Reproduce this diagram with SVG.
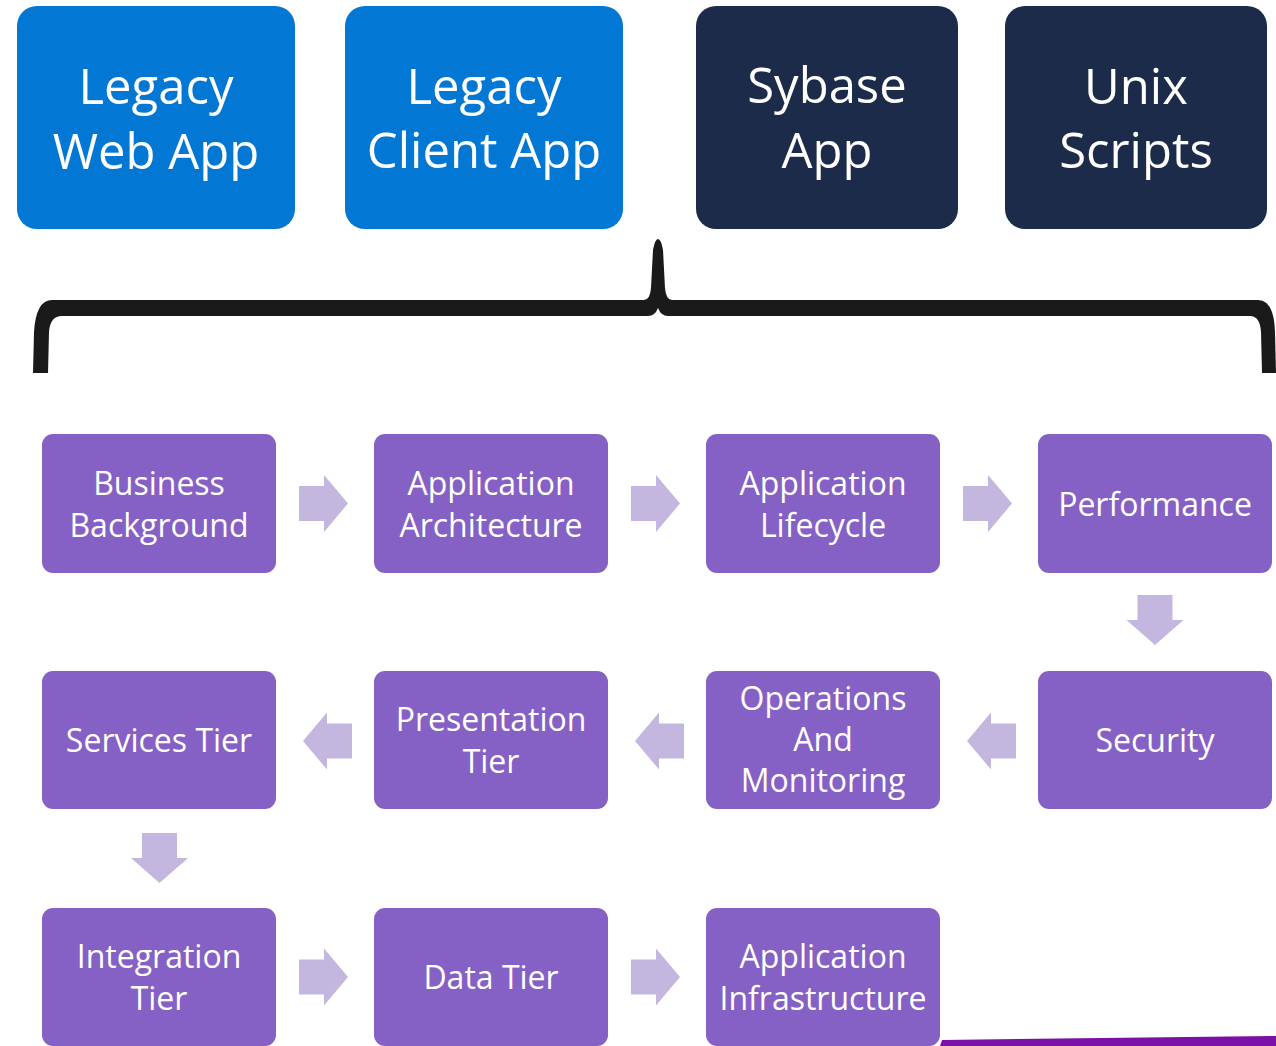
<svg xmlns="http://www.w3.org/2000/svg" width="1276" height="1046" viewBox="0 0 1276 1046">
<style>
.top{font-family:"Open Sans","Liberation Sans",sans-serif;font-size:49px;fill:#fff;text-anchor:middle}
.step{font-family:"Open Sans","Liberation Sans",sans-serif;font-size:32px;fill:#fff;text-anchor:middle}
.blue{fill:#0278D4}
.navy{fill:#1D2B4A}
.box{fill:#8661C5}
.arr{fill:#C3B7E0}
</style>
<defs>
<path id="ar" d="M0 -17.5 L25 -17.5 L25 -28.5 L49 0 L25 28.5 L25 17.5 L0 17.5 Z"/>
<path id="ad" d="M-17.5 0 L17.5 0 L17.5 25 L28.5 25 L0 50 L-28.5 25 L-17.5 25 Z"/>
</defs>
<rect width="1276" height="1046" fill="#fff"/>
<g id="legacy-web-app"><rect class="blue" x="17" y="6" width="278" height="223" rx="20"/><text class="top" x="156" y="104">Legacy</text><text class="top" x="156" y="169">Web App</text></g>
<g id="legacy-client-app"><rect class="blue" x="345" y="6" width="278" height="223" rx="20"/><text class="top" x="484" y="104">Legacy</text><text class="top" x="484" y="168">Client App</text></g>
<g id="sybase-app"><rect class="navy" x="696" y="6" width="262" height="223" rx="20"/><text class="top" x="827" y="103">Sybase</text><text class="top" x="827" y="168">App</text></g>
<g id="unix-scripts"><rect class="navy" x="1005" y="6" width="262" height="223" rx="20"/><text class="top" x="1136" y="104">Unix</text><text class="top" x="1136" y="168">Scripts</text></g>
<g id="brace"><path fill="#1A1A1A" d="M33 373 L34 332 Q36 300 52 300 L644 300 Q650 300 651 288 L653 250 Q655 239 658 239 Q661 239 663 250 L665 288 Q666 300 672 300 L1258 300 Q1274 300 1275 332 L1276 373 L1262 373 L1261 332 Q1260 316 1250 316 L668 316 Q661 316 658 308 Q655 316 648 316 L62 316 Q50 316 49 332 L48 373 Z"/></g>
<g id="bottom-line"><polygon fill="#7A10A6" points="940,1046 942,1040 1276,1036 1276,1046"/></g>
<g id="business-background"><rect class="box" x="42" y="434" width="234" height="139" rx="11"/><text class="step" x="159" y="495">Business</text><text class="step" x="159" y="537">Background</text></g>
<g id="application-architecture"><rect class="box" x="374" y="434" width="234" height="139" rx="11"/><text class="step" x="491" y="495">Application</text><text class="step" x="491" y="537">Architecture</text></g>
<g id="application-lifecycle"><rect class="box" x="706" y="434" width="234" height="139" rx="11"/><text class="step" x="823" y="495">Application</text><text class="step" x="823" y="537">Lifecycle</text></g>
<g id="performance"><rect class="box" x="1038" y="434" width="234" height="139" rx="11"/><text class="step" x="1155" y="516">Performance</text></g>
<g id="services-tier"><rect class="box" x="42" y="671" width="234" height="138" rx="11"/><text class="step" x="159" y="752">Services Tier</text></g>
<g id="presentation-tier"><rect class="box" x="374" y="671" width="234" height="138" rx="11"/><text class="step" x="491" y="731">Presentation</text><text class="step" x="491" y="773">Tier</text></g>
<g id="operations-and-monitoring"><rect class="box" x="706" y="671" width="234" height="138" rx="11"/><text class="step" x="823" y="710">Operations</text><text class="step" x="823" y="751">And</text><text class="step" x="823" y="792">Monitoring</text></g>
<g id="security"><rect class="box" x="1038" y="671" width="234" height="138" rx="11"/><text class="step" x="1155" y="752">Security</text></g>
<g id="integration-tier"><rect class="box" x="42" y="908" width="234" height="138" rx="11"/><text class="step" x="159" y="968">Integration</text><text class="step" x="159" y="1010">Tier</text></g>
<g id="data-tier"><rect class="box" x="374" y="908" width="234" height="138" rx="11"/><text class="step" x="491" y="989">Data Tier</text></g>
<g id="application-infrastructure"><rect class="box" x="706" y="908" width="234" height="138" rx="11"/><text class="step" x="823" y="968">Application</text><text class="step" x="823" y="1010">Infrastructure</text></g>
<g id="connectors" class="arr">
<use href="#ar" x="299" y="503.5"/>
<use href="#ar" x="631" y="503.5"/>
<use href="#ar" x="963" y="503.5"/>
<use href="#ad" x="1155" y="595"/>
<use href="#ar" transform="translate(1016 741) scale(-1 1)"/>
<use href="#ar" transform="translate(684 741) scale(-1 1)"/>
<use href="#ar" transform="translate(352 741) scale(-1 1)"/>
<use href="#ad" x="159.5" y="833"/>
<use href="#ar" x="299" y="977"/>
<use href="#ar" x="631" y="977"/>
</g>
</svg>
